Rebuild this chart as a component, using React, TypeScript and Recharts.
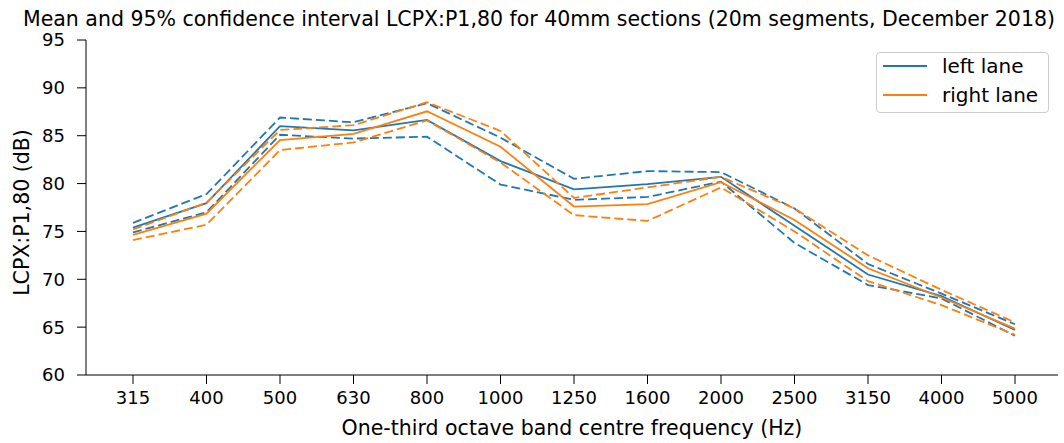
import React from "react";
import { LineChart, Line, XAxis, YAxis } from "recharts";

// one-third octave bands
const freqs = ["315", "400", "500", "630", "800", "1000", "1250", "1600", "2000", "2500", "3150", "4000", "5000"];

// left lane: mean and 95% CI bounds (dB)
const leftMean = [75.4, 77.95, 86.0, 85.55, 86.65, 82.35, 79.4, 79.95, 80.7, 75.6, 70.5, 68.25, 64.7];
const leftUpper = [75.9, 78.9, 86.9, 86.4, 88.4, 84.8, 80.5, 81.3, 81.2, 77.4, 71.6, 68.5, 65.3];
const leftLower = [74.9, 77.0, 85.1, 84.7, 84.9, 79.9, 78.3, 78.6, 80.2, 73.8, 69.4, 68.0, 64.1];

// right lane
const rightMean = [74.65, 76.85, 84.55, 85.2, 87.55, 83.85, 77.6, 77.85, 80.15, 76.2, 71.15, 68.1, 64.85];
const rightUpper = [75.2, 78.0, 85.6, 86.1, 88.5, 85.5, 78.5, 79.6, 80.7, 77.4, 72.5, 68.9, 65.5];
const rightLower = [74.1, 75.7, 83.5, 84.3, 86.6, 82.2, 76.7, 76.1, 79.6, 75.0, 69.8, 67.3, 64.2];

const yTicks = [60, 65, 70, 75, 80, 85, 90, 95];

const BLUE = "#1f77b4";
const ORANGE = "#ff7f0e";
const FONT = "'DejaVu Sans', sans-serif";
const DASH = "9 4";

const data = freqs.map((freq, i) => ({
  freq,
  leftMean: leftMean[i],
  leftUpper: leftUpper[i],
  leftLower: leftLower[i],
  rightMean: rightMean[i],
  rightUpper: rightUpper[i],
  rightLower: rightLower[i],
}));

const tickStyle = { fill: "#000", fontSize: 18, fontFamily: FONT };
const labelStyle = { fill: "#000", fontSize: 20.5, fontFamily: FONT };
const legendItems = [
  { label: "left lane", color: BLUE },
  { label: "right lane", color: ORANGE },
];

const App = () => (
  <div
    style={{
      position: "absolute",
      left: 0,
      top: 0,
      width: 1064,
      height: 443,
      background: "#fff",
      fontFamily: FONT,
    }}
  >
    <div
      style={{
        position: "absolute",
        left: 23,
        top: 7,
        fontSize: 20.5,
        lineHeight: "24px",
        whiteSpace: "nowrap",
        color: "#000",
      }}
    >
      Mean and 95% confidence interval LCPX:P1,80 for 40mm sections (20m segments, December 2018)
    </div>
    <LineChart
      width={1064}
      height={443}
      data={data}
      margin={{ top: 40, right: 6, bottom: 0, left: 0 }}
      style={{ fontFamily: FONT }}
    >
      <XAxis
        dataKey="freq"
        interval={0}
        padding={{ left: 47, right: 43 }}
        height={68}
        tickSize={9}
        tickMargin={7}
        tick={tickStyle}
        axisLine={{ stroke: "#000" }}
        tickLine={{ stroke: "#000" }}
        label={{
          value: "One-third octave band centre frequency (Hz)",
          position: "insideBottom",
          offset: 8,
          style: labelStyle,
        }}
      />
      <XAxis
        xAxisId="top"
        orientation="top"
        dataKey="freq"
        height={0}
        tick={false}
        tickLine={false}
        axisLine={{ stroke: "#000" }}
      />
      <YAxis
        domain={[60, 95]}
        ticks={yTicks}
        interval={0}
        width={86}
        tickSize={9}
        tickMargin={12}
        tick={tickStyle}
        axisLine={{ stroke: "#000" }}
        tickLine={{ stroke: "#000" }}
        label={{
          value: "LCPX:P1,80 (dB)",
          angle: -90,
          position: "insideLeft",
          offset: 22,
          dy: 5,
          style: { ...labelStyle, textAnchor: "middle" },
        }}
      />
      <YAxis
        yAxisId="right"
        orientation="right"
        domain={[60, 95]}
        width={0}
        tick={false}
        tickLine={false}
        axisLine={{ stroke: "#000" }}
      />
      <Line dataKey="leftMean" stroke={BLUE} strokeWidth={1.8} dot={false} isAnimationActive={false} />
      <Line dataKey="leftUpper" stroke={BLUE} strokeWidth={1.8} strokeDasharray={DASH} dot={false} isAnimationActive={false} />
      <Line dataKey="leftLower" stroke={BLUE} strokeWidth={1.8} strokeDasharray={DASH} dot={false} isAnimationActive={false} />
      <Line dataKey="rightMean" stroke={ORANGE} strokeWidth={1.8} dot={false} isAnimationActive={false} />
      <Line dataKey="rightUpper" stroke={ORANGE} strokeWidth={1.8} strokeDasharray={DASH} dot={false} isAnimationActive={false} />
      <Line dataKey="rightLower" stroke={ORANGE} strokeWidth={1.8} strokeDasharray={DASH} dot={false} isAnimationActive={false} />
    </LineChart>
    <div
      style={{
        position: "absolute",
        left: 876,
        top: 52,
        width: 171,
        height: 59,
        border: "1px solid #cccccc",
        borderRadius: 4,
        background: "rgba(255,255,255,0.8)",
      }}
    >
      {legendItems.map((item, i) => (
        <React.Fragment key={item.label}>
          <div
            style={{
              position: "absolute",
              left: 6,
              top: 12 + i * 29,
              width: 44,
              height: 2,
              background: item.color,
            }}
          />
          <div
            style={{
              position: "absolute",
              left: 65,
              top: 2 + i * 29,
              fontSize: 20,
              lineHeight: "23px",
              whiteSpace: "nowrap",
              color: "#000",
            }}
          >
            {item.label}
          </div>
        </React.Fragment>
      ))}
    </div>
  </div>
);

export default App;
